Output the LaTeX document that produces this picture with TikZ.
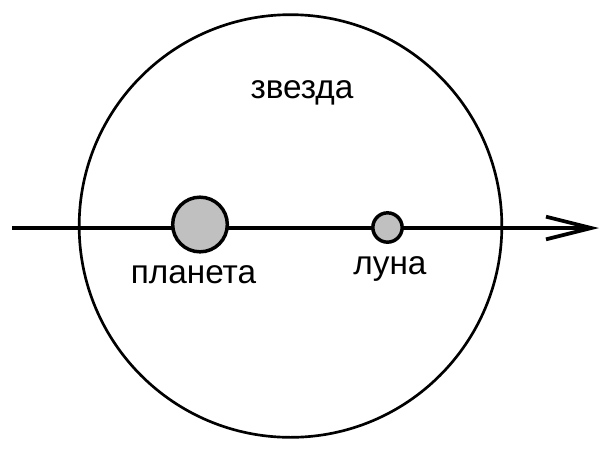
\documentclass[tikz,border=0pt]{standalone}
\usepackage{fontspec}
\setmainfont{Liberation Sans}
\usetikzlibrary{arrows.meta}
\definecolor{bodygray}{RGB}{192,192,192}
\tikzset{
  body/.style={circle, draw, line width=2.6pt, fill=bodygray, inner sep=0pt},
  label text/.style={anchor=base, inner sep=0.75pt, font=\fontsize{25}{29}\selectfont}
}
\begin{document}
\begin{tikzpicture}[x=0.75pt,y=0.75pt,yscale=-1,xscale=1]
    \useasboundingbox (0,0) rectangle (615,455);

    % Star
    \node (star) at (290.5,226) [circle, draw, line width=2pt, inner sep=0pt, minimum size=317pt] {};

    % Axis
    \coordinate (axisstart) at (12,228);
    \coordinate (axisend) at (599,228);
    \draw [line width=2.8pt, -{Straight Barb[length=34pt,width=17pt]}] (axisstart) -- (axisend);

    % Planet and moon
    \node (planet) at (200,224.5) [body, minimum size=41pt] {};
    \node (moon) at (387.5,227.5) [body, minimum size=22pt] {};

    % Text Node
    \node (starlabel) at (302,98) [label text] {звезда};
    % Text Node
    \node (planetlabel) at (193.5,283) [label text] {планета};
    % Text Node
    \node (moonlabel) at (390,274) [label text] {луна};
\end{tikzpicture}
\end{document}
